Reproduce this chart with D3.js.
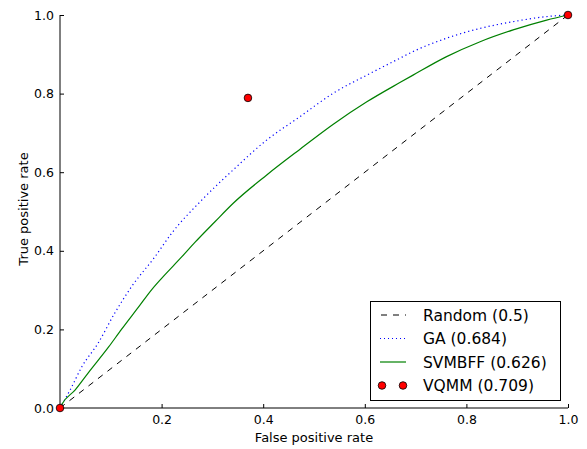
<!DOCTYPE html>
<html>
<head>
<meta charset="utf-8">
<script src="https://cdn.jsdelivr.net/npm/d3@7"></script>
<style>
  html, body { margin: 0; padding: 0; background: #fff; }
  text { font-family: "DejaVu Sans", sans-serif; }
</style>
</head>
<body>
<svg id="chart" width="587" height="449"></svg>
<script>
const xTicks = [0.2, 0.4, 0.6, 0.8, 1.0];
const yTicks = [0.0, 0.2, 0.4, 0.6, 0.8, 1.0];

const randomFpr = [0, 1];
const randomTpr = [0, 1];

const gaFpr = [0, 0.020, 0.043, 0.075, 0.108, 0.141, 0.187, 0.220, 0.279, 0.341, 0.407, 0.472, 0.538, 0.604, 0.663, 0.695, 0.761, 0.827, 0.892, 0.958, 1];
const gaTpr = [0, 0.046, 0.105, 0.165, 0.242, 0.309, 0.385, 0.445, 0.529, 0.606, 0.682, 0.741, 0.801, 0.847, 0.886, 0.907, 0.941, 0.966, 0.983, 0.996, 1];

const svmFpr = [0, 0.003, 0.030, 0.056, 0.095, 0.121, 0.154, 0.181, 0.200, 0.240, 0.266, 0.305, 0.341, 0.407, 0.472, 0.538, 0.604, 0.669, 0.695, 0.761, 0.827, 0.892, 0.958, 1];
const svmTpr = [0, 0.008, 0.046, 0.090, 0.154, 0.200, 0.256, 0.302, 0.330, 0.385, 0.422, 0.474, 0.521, 0.593, 0.658, 0.722, 0.779, 0.828, 0.847, 0.894, 0.932, 0.962, 0.987, 1];

const vqmmFpr = [0, 0.370, 1];
const vqmmTpr = [0, 0.789, 1];

const legendLabels = ["Random (0.5)", "GA (0.684)", "SVMBFF (0.626)", "VQMM (0.709)"];

const svg = d3.select("#chart");
const L = 60, R = 568, T = 15, B = 408;
const x = d3.scaleLinear().domain([0, 1]).range([L, R]);
const y = d3.scaleLinear().domain([0, 1]).range([B, T]);

// axes (ticks inward)
const xAxis = d3.axisBottom(x).tickValues(xTicks).tickSize(-4).tickPadding(8).tickFormat(d3.format(".1f"));
const yAxis = d3.axisLeft(y).tickValues(yTicks).tickSize(-4).tickPadding(6).tickFormat(d3.format(".1f"));

const gx = svg.append("g").attr("transform", `translate(0,${B})`).call(xAxis);
const gy = svg.append("g").attr("transform", `translate(${L},0)`).call(yAxis);
[gx, gy].forEach(g => {
  g.select(".domain").attr("stroke", "#000").attr("stroke-width", 1);
  g.selectAll(".tick line").attr("stroke", "#000");
  g.selectAll("text").attr("font-size", 12.5).attr("fill", "#000").attr("font-family", "DejaVu Sans");
});
gx.selectAll("text").attr("dy", "0.71em").attr("y", 7);
gy.select(".domain").attr("d", `M0,${B}V${T}`);
gx.select(".domain").attr("d", `M${L},0H${R}`);

// axis labels
svg.append("text").attr("x", (L + R) / 2).attr("y", 442).attr("text-anchor", "middle")
  .attr("font-size", 13).text("False positive rate");
svg.append("text").attr("transform", `translate(28,209) rotate(-90)`).attr("text-anchor", "middle")
  .attr("font-size", 13).text("True positive rate");

const line = d3.line().curve(d3.curveMonotoneX).x(d => x(d[0])).y(d => y(d[1]));
const zip = (a, b) => a.map((v, i) => [v, b[i]]);

svg.append("path").datum(zip(randomFpr, randomTpr)).attr("d", line)
  .attr("fill", "none").attr("stroke", "#000").attr("stroke-width", 1).attr("stroke-dasharray", "6,6");
svg.append("path").datum(zip(gaFpr, gaTpr)).attr("d", line)
  .attr("fill", "none").attr("stroke", "#0000ff").attr("stroke-width", 1.2).attr("stroke-dasharray", "1.2,3");
svg.append("path").datum(zip(svmFpr, svmTpr)).attr("d", line)
  .attr("fill", "none").attr("stroke", "#008000").attr("stroke-width", 1.2);

svg.append("g").selectAll("circle").data(zip(vqmmFpr, vqmmTpr)).join("circle")
  .attr("cx", d => x(d[0])).attr("cy", d => y(d[1])).attr("r", 3.8)
  .attr("fill", "#ff0000").attr("stroke", "#000").attr("stroke-width", 0.8);

// legend
const lg = svg.append("g");
lg.append("rect").attr("x", 370.5).attr("y", 301.5).attr("width", 190).attr("height", 99)
  .attr("fill", "#fff").attr("stroke", "#000").attr("stroke-width", 1);
const rowsY = [315, 338.5, 362, 385.5];
lg.append("line").attr("x1", 380).attr("x2", 406).attr("y1", rowsY[0]).attr("y2", rowsY[0])
  .attr("stroke", "#000").attr("stroke-dasharray", "6,6").attr("stroke-dashoffset", -1);
lg.append("line").attr("x1", 380).attr("x2", 406).attr("y1", rowsY[1]).attr("y2", rowsY[1])
  .attr("stroke", "#0000ff").attr("stroke-dasharray", "1,3");
lg.append("line").attr("x1", 380).attr("x2", 406).attr("y1", rowsY[2]).attr("y2", rowsY[2])
  .attr("stroke", "#008000").attr("stroke-width", 1.2);
[382, 403].forEach(cx => lg.append("circle").attr("cx", cx).attr("cy", rowsY[3]).attr("r", 3.8)
  .attr("fill", "#ff0000").attr("stroke", "#000").attr("stroke-width", 0.8));
lg.selectAll("text.lab").data(legendLabels).join("text").attr("class", "lab")
  .attr("x", 423).attr("y", (d, i) => rowsY[i]).attr("dy", "0.36em")
  .attr("font-size", 15.5).text(d => d);
</script>
</body>
</html>
